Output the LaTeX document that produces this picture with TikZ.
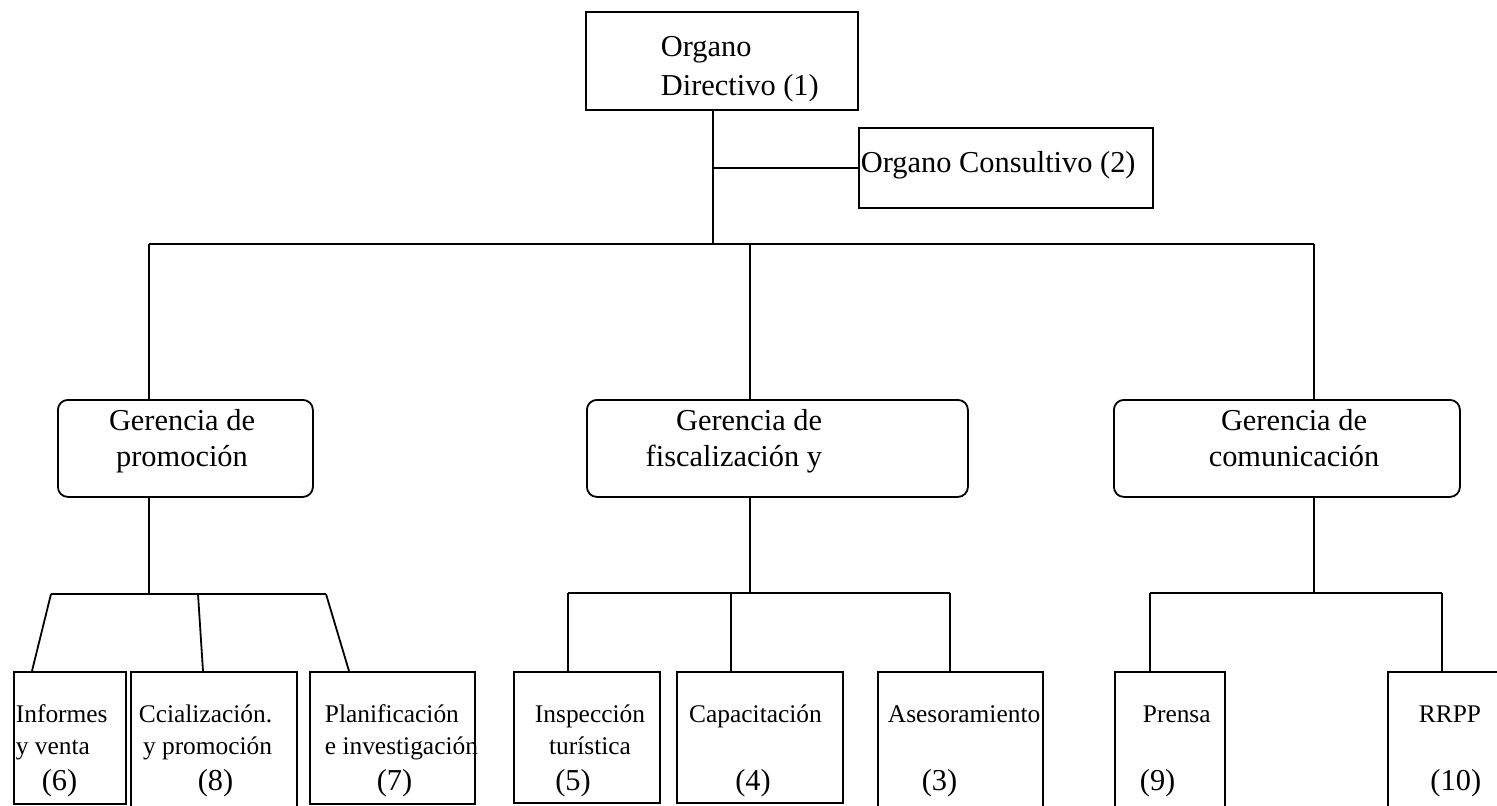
\documentclass[tikz,border=0pt]{standalone}
\usepackage{fontspec}
\setmainfont{Liberation Serif}

\begin{document}
\begin{tikzpicture}[x=0.5pt, y=-0.5pt, line width=0.9pt,
  box/.style={draw, rectangle, inner sep=0pt, anchor=north west},
  gbox/.style={draw, rectangle, rounded corners=5pt, inner sep=0pt, anchor=north west},
  big/.style={inner sep=0pt, font=\fontsize{15.2}{18}\selectfont},
  small/.style={inner sep=0pt, font=\fontsize{12.7}{16}\selectfont},
  num/.style={inner sep=0pt, font=\fontsize{15.2}{18}\selectfont, anchor=base}]

% picture area (bottom row of boxes runs off the page)
\clip (0,0) rectangle (1497,805);

% ===== TOP: directive and consultive organs =====
% (multi-line texts sit on the baseline of their last line)
\node[box, minimum width=136pt, minimum height=49pt] (dir) at (585,11) {};
\node[big, align=left, anchor=base west, font=\fontsize{15.2}{19.5}\selectfont]
  (dir-t) at (660,95) {Organo\\Directivo (1)};

\node[box, minimum width=147pt, minimum height=40pt] (cons) at (858,127) {};
\node[big, anchor=base west] (cons-t) at (860,172) {Organo Consultivo (2)};

% ===== MIDDLE: the three managements =====
\node[gbox, minimum width=127.5pt, minimum height=48.5pt] (gprom) at (57,399) {};
\node[big, align=center, anchor=base] (gprom-t) at (182,466)
  {Gerencia de\\promoción};

\node[gbox, minimum width=190.5pt, minimum height=48.5pt] (gfisc) at (586,399) {};
\node[big, align=right, anchor=base east] (gfisc-t) at (823,466)
  {Gerencia de\\fiscalización y};

\node[gbox, minimum width=173pt, minimum height=48.5pt] (gcom) at (1113,399) {};
\node[big, align=center, anchor=base] (gcom-t) at (1294,466)
  {Gerencia de\\comunicación};

% ===== BOTTOM: departments =====
\node[box, minimum width=56pt, minimum height=66pt] (inf) at (13,671) {};
\node[small, align=left, anchor=base west] (inf-t) at (15,754) {Informes\\y venta};
\node[num] (inf-n) at (59.5,790) {(6)};

\node[box, minimum width=83pt, minimum height=95pt] (ccial) at (130,671) {};
\node[small, align=right, anchor=base east] (ccial-t) at (273,754)
  {Ccialización.\\y promoción};
\node[num] (ccial-n) at (215.5,790) {(8)};

\node[box, minimum width=82.5pt, minimum height=66pt] (plan) at (309,671) {};
\node[small, align=left, anchor=base west] (plan-t) at (324,754)
  {Planificación\\ e investigación};
\node[num] (plan-n) at (394.5,790) {(7)};

\node[box, minimum width=73pt, minimum height=65.5pt] (insp) at (513,671) {};
\node[small, align=center, anchor=base] (insp-t) at (590,754) {Inspección\\turística};
\node[num] (insp-n) at (573,790) {(5)};

\node[box, minimum width=83pt, minimum height=65.5pt] (capa) at (676,671) {};
\node[small, anchor=base] (capa-t) at (755.5,722) {Capacitación};
\node[num] (capa-n) at (753,790) {(4)};

\node[box, minimum width=82.5pt, minimum height=95pt] (ases) at (877,671) {};
\node[small, anchor=base west] (ases-t) at (887,722) {Asesoramiento};
\node[num] (ases-n) at (939.5,790) {(3)};

\node[box, minimum width=55pt, minimum height=95pt] (prensa) at (1114,671) {};
\node[small, anchor=base west] (prensa-t) at (1142,722) {Prensa};
\node[num, anchor=base west] (prensa-n) at (1139,790) {(9)};

\node[box, minimum width=66.5pt, minimum height=95pt] (rrpp) at (1387,671) {};
\node[small, anchor=base east] (rrpp-t) at (1482,722) {RRPP};
\node[num, anchor=base east] (rrpp-n) at (1482,790) {(10)};

% ===== CONNECTORS =====
% top stem and branch to the consultive organ
\coordinate (hub) at (713,244);
\draw (dir.south -| hub) -- (hub);
\draw (hub |- cons.west) -- (cons.west);

% main bar down to the managements
\coordinate (g1) at (149,244);
\coordinate (g2) at (750,244);
\coordinate (g3) at (1314,244);
\draw (g1) -- (g3);
\draw (g1) -- (g1 |- gprom.north);
\draw (g2) -- (g2 |- gfisc.north);
\draw (g3) -- (g3 |- gcom.north);

% promotion bracket (slanted legs)
\coordinate (pb) at (149,594);
\coordinate (pb-l) at (51,594);
\coordinate (pb-m) at (198,594);
\coordinate (pb-r) at (326,594);
\draw (gprom.south -| pb) -- (pb);
\draw (pb-l) -- (pb-r);
\draw (pb-l) -- ([xshift=9.5pt]inf.north west);
\draw (pb-m) -- ([xshift=36.5pt]ccial.north west);
\draw (pb-r) -- ([xshift=20pt]plan.north west);

% fiscalization bracket
\coordinate (fb) at (750,593);
\coordinate (fb-l) at (568,593);
\coordinate (fb-m) at (731,593);
\coordinate (fb-r) at (950,593);
\draw (gfisc.south -| fb) -- (fb);
\draw (fb-l) -- (fb-r);
\draw (fb-l) -- (fb-l |- insp.north);
\draw (fb-m) -- (fb-m |- capa.north);
\draw (fb-r) -- (fb-r |- ases.north);

% communication bracket
\coordinate (cb) at (1314,593);
\coordinate (cb-l) at (1150,593);
\coordinate (cb-r) at (1442,593);
\draw (gcom.south -| cb) -- (cb);
\draw (cb-l) -- (cb-r);
\draw (cb-l) -- (cb-l |- prensa.north);
\draw (cb-r) -- (cb-r |- rrpp.north);

\end{tikzpicture}
\end{document}
